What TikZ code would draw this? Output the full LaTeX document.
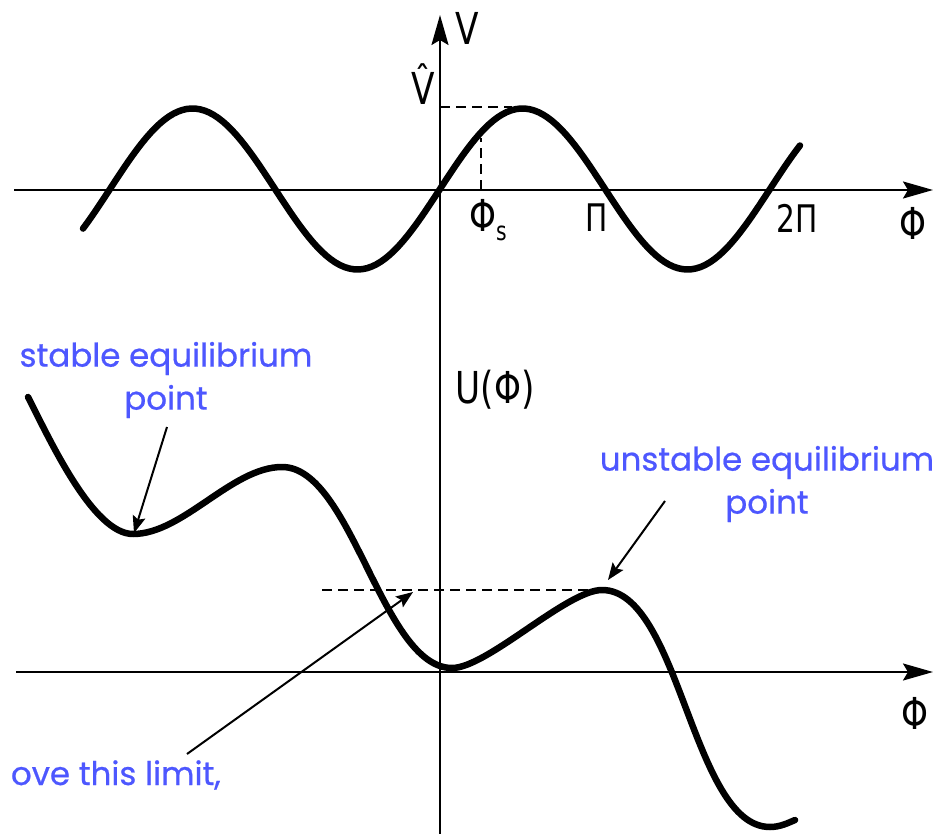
\documentclass[tikz,border=0pt]{standalone}
\usepackage{fontspec}
\usetikzlibrary{arrows.meta}
\newfontfamily\axfont{DejaVu Sans}[FakeStretch=0.78]
\newfontfamily\notefont{Poppins}[FakeBold=0.6]
\definecolor{noteblue}{RGB}{77,87,255}
\begin{document}
\begin{tikzpicture}[x=1pt,y=-1pt,
  axis/.style={line width=2.4pt, -{Stealth[length=30pt,width=17pt,inset=5pt]}},
  curve/.style={line width=6.5pt, line cap=round, line join=round},
  guide/.style={line width=1.6pt, dash pattern=on 10pt off 6pt},
  note/.style={text=noteblue, font=\notefont\fontsize{32.5}{43}\selectfont, align=center, inner sep=0pt},
  pointer/.style={line width=2pt, -{Stealth[length=17pt,width=13pt,inset=3pt]}},
  lab/.style={font=\axfont\fontsize{44}{44}\selectfont, inner sep=0pt}
]
\useasboundingbox (0,0) rectangle (950,834);
\fill[white] (0,0) rectangle (950,834);

% axes
\coordinate (vbot) at (440,834);
\coordinate (vtop) at (440,15);
\coordinate (hAl) at (14,190);
\coordinate (hAr) at (933,190);
\coordinate (hBl) at (16,672);
\coordinate (hBr) at (933,672);
\draw[axis] (vbot) -- (vtop);
\draw[axis] (hAl) -- (hAr);
\draw[axis] (hBl) -- (hBr);

% top: V(phi)
\draw[curve] plot[domain=83:800, samples=160] (\x, {189 - 80.5*sin((\x-440)/165*180)});
\coordinate (vhatA) at (440,107);
\coordinate (vhatB) at (512,107);
\coordinate (phisA) at (481,190);
\coordinate (phisB) at (481,138);
\draw[guide] (vhatA) -- (vhatB);
\draw[guide] (phisA) -- (phisB);

% labels top
\node[lab, anchor=west] (vlab) at (455,28) {V};
\node[lab] (vhat) at (423,84) {\^V};
\node[lab, anchor=west] (phis) at (469,220) {Φ\raisebox{-9pt}{\fontsize{26}{26}\selectfont s}};
\node[lab, font=\axfont\fontsize{38}{38}\selectfont] (pilab) at (597,218) {Π};
\node[lab, font=\axfont\fontsize{38}{38}\selectfont] (twopi) at (797,218) {2Π};
\node[lab] (phiA) at (913,223) {Φ};

% bottom: U(phi)
\coordinate (u0) at (28,397);
\coordinate (u1) at (133,534);
\coordinate (u2) at (282,467);
\coordinate (u3) at (452,668);
\coordinate (u4) at (602,590);
\coordinate (u5) at (770,827);
\coordinate (u6) at (795,820);
\draw[curve] (u0) .. controls (50,440) and (93,534) .. (u1)
  .. controls (183,534) and (232,467) .. (u2)
  .. controls (352,467) and (382,668) .. (u3)
  .. controls (487,668) and (567,590) .. (u4)
  .. controls (680,590) and (692,827) .. (u5)
  .. controls (780,827) and (788,823) .. (u6);
\coordinate (limA) at (322,590);
\draw[guide] (limA) -- (u4);

\node[lab] (ulab) at (495,390) {U(Φ)};
\node[lab] (phiB) at (915,713) {Φ};

% notes
\node[note] (stable) at (166,380) {stable equilibrium\\point};
\node[note] (unstable) at (767,484) {unstable equilibrium\\point};
\node[note, anchor=base east] (limit) at (221,785) {ove this limit,};

\coordinate (sTail) at (167,427);
\coordinate (sTip) at (134,533);
\coordinate (uTail) at (665,501);
\coordinate (uTip) at (608,580);
\coordinate (lTail) at (187,754);
\coordinate (lTip) at (413,592);
\draw[pointer] (sTail) -- (sTip);
\draw[pointer] (uTail) -- (uTip);
\draw[pointer] (lTail) -- (lTip);
\end{tikzpicture}
\end{document}
